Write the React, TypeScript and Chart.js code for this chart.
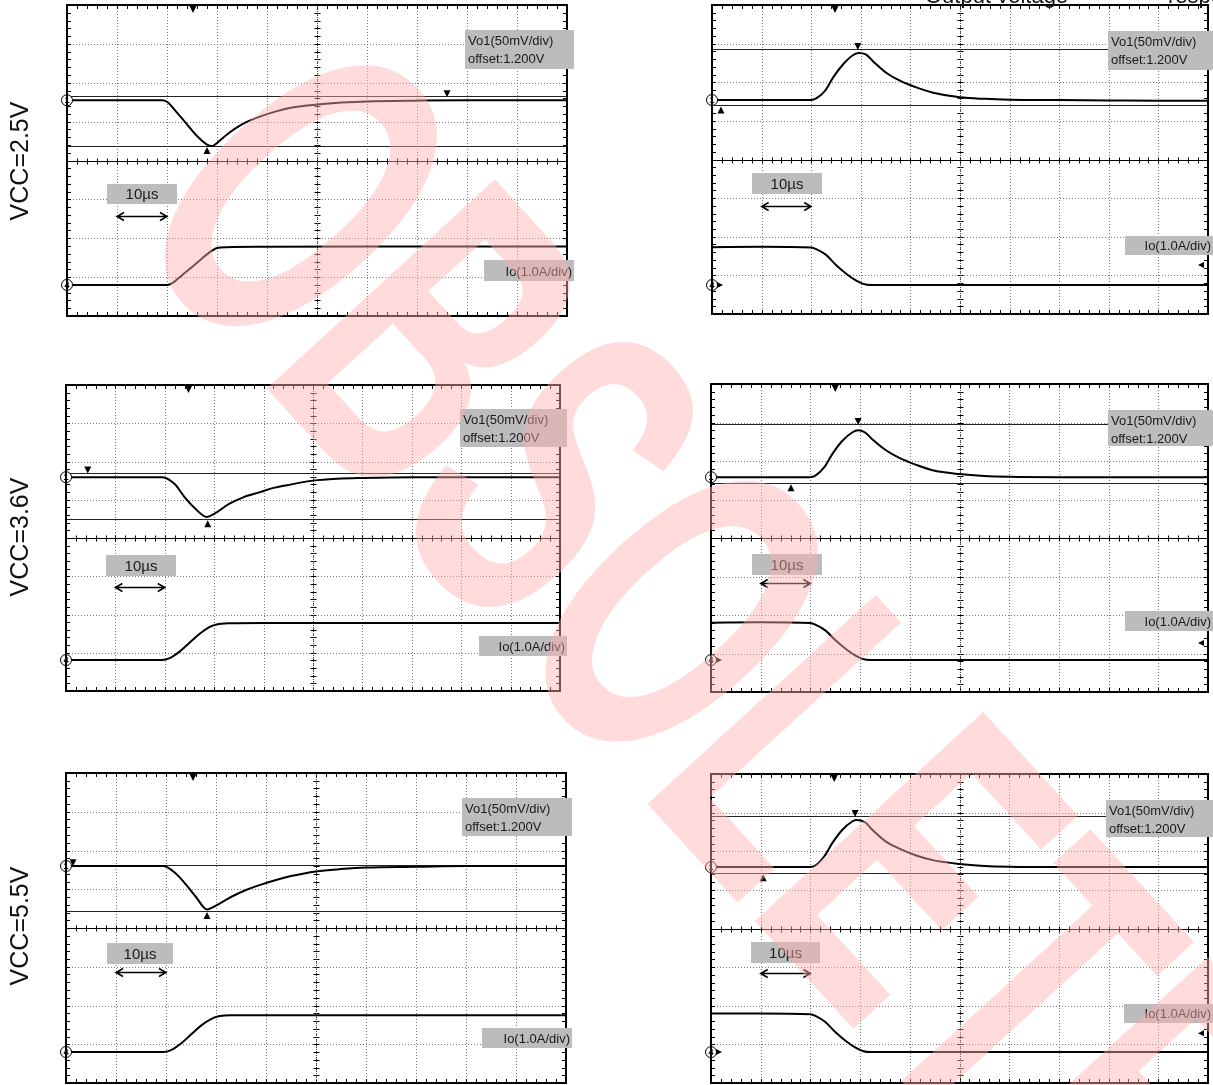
import React, { useEffect, useRef } from "react";
import { Chart, registerables } from "chart.js";
Chart.register(...registerables);

const FONT = "Arial, 'Liberation Sans', Helvetica, sans-serif";

// ---------------- text ----------------
const VCC_LABELS = ["VCC=2.5V", "VCC=3.6V", "VCC=5.5V"];
const VO_LABEL = ["Vo1(50mV/div)", "offset:1.200V"];
const IO_LABEL = "Io(1.0A/div)";
const TIME_LABEL = "10µs";
const TITLE_PARTS = ["Output voltage", "response"];
const WATERMARK = "OBSOLETE";

// ---------------- scales ----------------
const VO_MV_PER_DIV = 50;
const IO_A_PER_DIV = 1.0;
const T_MIN = 0; // µs
const T_MAX = 100; // µs (10 µs/div)

// ---------------- data: left column (load step up, Vo undershoot) ----------------
const tlVoT = [0, 10, 19, 20, 22, 24, 26, 28, 29, 30, 32, 35, 38.6, 42, 45.3, 50, 55, 60, 70, 80, 90, 100];
const tlVoMv = [0, 0, 0, -2, -16, -31, -46, -57, -59, -55, -44, -31, -21, -14, -9, -5.5, -3, -1.5, -0.5, 0, 0, 0];
const tlIoT = [0, 10, 20, 21, 23, 25, 27, 29, 30, 32, 40, 60, 80, 100];
const tlIoA = [0, 0, 0, 0.04, 0.25, 0.46, 0.68, 0.88, 0.95, 0.97, 0.98, 0.99, 0.99, 0.99];

const mlVoT = [0, 10, 19.5, 22, 24, 26, 28.5, 30, 33, 36, 39.3, 42, 44.7, 50, 55, 60, 70, 80, 100];
const mlVoMv = [0, 0, 0, -9, -26, -40, -52, -48, -35, -26, -19.5, -14, -10.5, -4.5, -2, -1, 0, 0, 0];
const mlIoT = [0, 10, 19.5, 21, 23, 25, 27, 29, 30.5, 33, 40, 60, 100];
const mlIoA = [0, 0, 0, 0.05, 0.22, 0.45, 0.68, 0.86, 0.93, 0.96, 0.97, 0.97, 0.97];

const blVoT = [0, 10, 19.5, 22, 24, 26, 28.2, 30, 33, 36, 39, 42, 45, 50, 55, 60, 70, 80, 100];
const blVoMv = [0, 0, 0, -10, -24, -40, -56, -51, -40, -31, -24, -18, -13, -7, -4, -2, -1, 0, 0];
const blIoT = [0, 10, 19.5, 21, 23, 25, 27, 29, 30.5, 33, 40, 60, 100];
const blIoA = [0, 0, 0, 0.05, 0.22, 0.45, 0.68, 0.85, 0.92, 0.95, 0.95, 0.95, 0.95];

// ---------------- data: right column (load release, Vo overshoot) ----------------
const trVoT = [0, 10, 20, 21, 22.8, 24.4, 26.4, 28.4, 29.6, 31, 32.5, 35.2, 37.9, 41.3, 44.6, 50, 55, 60, 70, 80, 90, 100];
const trVoMv = [0, 0, 0, 2, 12, 29, 46, 58, 61, 59, 50, 35, 25, 16, 9.5, 3.5, 1.5, 0.5, 0, -0.5, -1, -1];
const trIoT = [0, 10, 20, 21, 23, 25, 27, 29, 30.5, 32, 40, 60, 80, 100];
const trIoA = [0.98, 0.99, 0.97, 0.93, 0.78, 0.52, 0.3, 0.12, 0.03, 0, 0, 0, 0, 0];

const mrVoT = [0, 10, 20, 21, 22.8, 24.4, 26.4, 28.4, 29.6, 31, 32.5, 35.2, 37.9, 41.3, 44.6, 50, 55, 60, 70, 80, 90, 100];
const mrVoMv = [0, 0, 0, 2, 13, 30, 47, 58, 61, 58, 49, 35, 25, 16, 9, 4, 1.5, 0.5, 0, 0, 0, 0];
const mrIoT = [0, 10, 20, 21, 23, 25, 27, 29, 30.5, 32, 40, 60, 80, 100];
const mrIoA = [0.97, 0.98, 0.96, 0.92, 0.77, 0.52, 0.3, 0.12, 0.03, 0, 0, 0, 0, 0];

const brVoT = [0, 10, 20, 21, 22.8, 24.4, 26.4, 28.4, 29.2, 31, 32.5, 35.2, 37.9, 41.3, 44.6, 50, 55, 60, 70, 80, 90, 100];
const brVoMv = [0, 0, 0, 2, 14, 31, 48, 59, 61, 58, 48, 33, 24, 15, 9, 4, 1.5, 0.5, 0, 0, 0, 0];
const brIoT = [0, 10, 20, 21, 23, 25, 27, 29, 30.5, 32, 40, 60, 80, 100];
const brIoA = [1.0, 1.0, 0.98, 0.94, 0.78, 0.52, 0.3, 0.12, 0.03, 0, 0, 0, 0, 0];

// channel reference positions (div from screen centre)
const voPos = [1.55, 1.54, 1.59, 1.58, 1.6, 1.59];
const ioPos = [-3.2, -3.25, -3.19, -3.17, -3.2, -3.2];
// cursor levels (mV relative to Vo reference): [upper, lower]
const cursorMv = [[5, -59], [66, -7], [6, -55], [69, -8], [1, -58], [66, -8]];
// trigger time (µs) and cursor marker times (µs): [on upper cursor, on lower cursor]
const trigT = [25.2, 24.8, 24.8, 25, 25.4, 24.8];
const markT = [[76, 28], [29.4, 1.8], [4.4, 28.7], [29.6, 16.1], [1.4, 28.2], [29.0, 10.5]];
// ch4 trigger-level marker (div) on right panels
const ioLevelDiv = [null, -2.73, null, -2.73, null, -2.71];

// ---------------- layout ----------------
type Box = [number, number, number, number];
const LAYOUT = [
  { left: 67, top: 5, w: 500, h: 311, vo: [398, 25, 109, 39] as Box, io: [417, 255, 90, 21] as Box, tm: [40, 179, 70, 20] as Box, arrowY: 211 },
  { left: 712, top: 5, w: 496, h: 309, vo: [396, 26, 105, 39] as Box, io: [413, 231, 88, 19] as Box, tm: [40, 168, 70, 21] as Box, arrowY: 201 },
  { left: 66, top: 385, w: 494, h: 306, vo: [394, 24, 107, 38] as Box, io: [413, 251, 88, 20] as Box, tm: [40, 170, 70, 21] as Box, arrowY: 202 },
  { left: 711, top: 384, w: 497, h: 308, vo: [397, 26, 105, 36] as Box, io: [414, 227, 88, 20] as Box, tm: [41, 170, 70, 21] as Box, arrowY: 199 },
  { left: 66, top: 773, w: 500, h: 310, vo: [396, 25, 110, 38] as Box, io: [416, 255, 90, 20] as Box, tm: [41, 170, 66, 21] as Box, arrowY: 199 },
  { left: 711, top: 774, w: 497, h: 309, vo: [395, 26, 107, 37] as Box, io: [413, 230, 89, 19] as Box, tm: [40, 168, 69, 21] as Box, arrowY: 199 },
];
const PAD = { left: 12, right: 12, top: 5, bottom: 3 };

const SERIES = [
  { voT: tlVoT, voMv: tlVoMv, ioT: tlIoT, ioA: tlIoA },
  { voT: trVoT, voMv: trVoMv, ioT: trIoT, ioA: trIoA },
  { voT: mlVoT, voMv: mlVoMv, ioT: mlIoT, ioA: mlIoA },
  { voT: mrVoT, voMv: mrVoMv, ioT: mrIoT, ioA: mrIoA },
  { voT: blVoT, voMv: blVoMv, ioT: blIoT, ioA: blIoA },
  { voT: brVoT, voMv: brVoMv, ioT: brIoT, ioA: brIoA },
];

function tri(ctx: CanvasRenderingContext2D, x: number, y: number, dir: "down" | "up" | "left" | "right", s = 4, color = "#000") {
  ctx.save();
  ctx.fillStyle = color;
  ctx.beginPath();
  if (dir === "down") { ctx.moveTo(x - s, y - 2 * s); ctx.lineTo(x + s, y - 2 * s); ctx.lineTo(x, y); }
  if (dir === "up") { ctx.moveTo(x - s, y + 2 * s); ctx.lineTo(x + s, y + 2 * s); ctx.lineTo(x, y); }
  if (dir === "left") { ctx.moveTo(x + 2 * s, y - s); ctx.lineTo(x + 2 * s, y + s); ctx.lineTo(x, y); }
  if (dir === "right") { ctx.moveTo(x - 2 * s, y - s); ctx.lineTo(x - 2 * s, y + s); ctx.lineTo(x, y); }
  ctx.closePath();
  ctx.fill();
  ctx.restore();
}

function makeScopePlugin(i: number) {
  const L = LAYOUT[i];
  const right = i % 2 === 1;
  return {
    id: "scope" + i,
    beforeDatasetsDraw(chart: any) {
      const { ctx, chartArea: a, scales } = chart;
      const xs = scales.x, ys = scales.y;
      ctx.save();
      // dotted grid
      ctx.strokeStyle = "#7a7a7a";
      ctx.lineWidth = 1;
      ctx.setLineDash([1, 2]);
      for (let k = 1; k < 10; k++) {
        const px = Math.round(xs.getPixelForValue(k * 10)) + 0.5;
        ctx.beginPath(); ctx.moveTo(px, a.top); ctx.lineTo(px, a.bottom); ctx.stroke();
      }
      for (let k = -3; k <= 3; k++) {
        if (k === 0) continue;
        const py = Math.round(ys.getPixelForValue(k)) + 0.5;
        ctx.beginPath(); ctx.moveTo(a.left, py); ctx.lineTo(a.right, py); ctx.stroke();
      }
      ctx.setLineDash([]);
      // centre horizontal line
      ctx.strokeStyle = "#000";
      const cy = Math.round(ys.getPixelForValue(0)) + 0.5;
      ctx.beginPath(); ctx.moveTo(a.left, cy); ctx.lineTo(a.right, cy); ctx.stroke();
      const cx = Math.round(xs.getPixelForValue(50)) + 0.5;
      // minor ticks
      ctx.beginPath();
      for (let k = 1; k < 50; k++) {
        const px = Math.round(xs.getPixelForValue(k * 2)) + 0.5;
        ctx.moveTo(px, a.top); ctx.lineTo(px, a.top + 4);
        ctx.moveTo(px, a.bottom); ctx.lineTo(px, a.bottom - 4);
        ctx.moveTo(px, cy - 3); ctx.lineTo(px, cy + 3);
      }
      for (let k = 1; k < 40; k++) {
        const py = Math.round(ys.getPixelForValue(-4 + k * 0.2)) + 0.5;
        ctx.moveTo(a.left, py); ctx.lineTo(a.left + 4, py);
        ctx.moveTo(a.right, py); ctx.lineTo(a.right - 4, py);
        ctx.moveTo(cx - 3, py); ctx.lineTo(cx + 3, py);
      }
      ctx.stroke();
      // centre vertical (dotted) line
      ctx.strokeStyle = "#444";
      ctx.setLineDash([1, 1]);
      ctx.beginPath(); ctx.moveTo(cx, a.top); ctx.lineTo(cx, a.bottom); ctx.stroke();
      ctx.setLineDash([]);
      // cursor lines
      ctx.strokeStyle = "#222";
      for (const mv of cursorMv[i]) {
        const py = Math.round(ys.getPixelForValue(voPos[i] + mv / VO_MV_PER_DIV)) + 0.5;
        ctx.beginPath(); ctx.moveTo(a.left, py); ctx.lineTo(a.right, py); ctx.stroke();
      }
      ctx.restore();
    },
    afterDatasetsDraw(chart: any) {
      const { ctx, chartArea: a, scales } = chart;
      const xs = scales.x, ys = scales.y;
      ctx.save();
      // trigger marker
      tri(ctx, xs.getPixelForValue(trigT[i]), a.top + 8, "down", 3.5);
      const yUp = ys.getPixelForValue(voPos[i] + cursorMv[i][0] / VO_MV_PER_DIV);
      const yLo = ys.getPixelForValue(voPos[i] + cursorMv[i][1] / VO_MV_PER_DIV);
      tri(ctx, xs.getPixelForValue(markT[i][0]), yUp + 1, "down", 3.5);
      tri(ctx, xs.getPixelForValue(markT[i][1]), yLo + 1, "up", 3.5);
      if (ioLevelDiv[i] !== null) {
        tri(ctx, a.right - 10, ys.getPixelForValue(ioLevelDiv[i] as number), "left", 3);
      }
      // channel markers
      const chans: [string, number][] = [["1", voPos[i]], ["4", ioPos[i]]];
      for (const [lbl, pos] of chans) {
        const py = ys.getPixelForValue(pos);
        if (right && lbl === "4") tri(ctx, a.left + 11, py, "right", 3);
        ctx.beginPath();
        ctx.arc(a.left, py, 5.5, 0, Math.PI * 2);
        ctx.fillStyle = "#fff"; ctx.fill();
        ctx.strokeStyle = "#000"; ctx.lineWidth = 1; ctx.stroke();
        ctx.fillStyle = "#000";
        ctx.font = `bold 9px ${FONT}`;
        ctx.textAlign = "center"; ctx.textBaseline = "middle";
        ctx.fillText(lbl, a.left, py + 0.5);
      }
      // border
      ctx.strokeStyle = "#000";
      ctx.lineWidth = 2;
      ctx.strokeRect(a.left, a.top, a.right - a.left, a.bottom - a.top);
      // label boxes
      const ox = a.left, oy = a.top;
      ctx.fillStyle = "#bcbcbc";
      const [vx, vy, vw, vh] = L.vo;
      ctx.fillRect(ox + vx, oy + vy, vw, vh);
      const [ix, iy, iw, ih] = L.io;
      ctx.fillRect(ox + ix, oy + iy, iw, ih);
      const [tx, ty, tw, th] = L.tm;
      ctx.fillRect(ox + tx, oy + ty, tw, th);
      ctx.fillStyle = "#1a1a1a";
      ctx.textAlign = "left"; ctx.textBaseline = "alphabetic";
      ctx.font = `13px ${FONT}`;
      ctx.fillText(VO_LABEL[0], ox + vx + 3, oy + vy + 15);
      ctx.fillText(VO_LABEL[1], ox + vx + 3, oy + vy + 33);
      ctx.textAlign = "right";
      ctx.fillText(IO_LABEL, ox + ix + iw - 2, oy + iy + ih - 5);
      ctx.textAlign = "center";
      ctx.font = `15px ${FONT}`;
      ctx.fillText(TIME_LABEL, ox + tx + tw / 2, oy + ty + th - 5);
      // 10 µs arrow
      const x1 = xs.getPixelForValue(10), x2 = xs.getPixelForValue(20);
      const ay = oy + L.arrowY + 0.5;
      ctx.strokeStyle = "#000"; ctx.lineWidth = 1.5;
      ctx.beginPath();
      ctx.moveTo(x1, ay); ctx.lineTo(x2, ay);
      ctx.moveTo(x1 + 7, ay - 4); ctx.lineTo(x1, ay); ctx.lineTo(x1 + 7, ay + 4);
      ctx.moveTo(x2 - 7, ay - 4); ctx.lineTo(x2, ay); ctx.lineTo(x2 - 7, ay + 4);
      ctx.stroke();
      ctx.restore();
    },
  };
}

function ScopePanel({ index }: { index: number }) {
  const ref = useRef<HTMLCanvasElement>(null);
  const L = LAYOUT[index];
  const W = L.w + PAD.left + PAD.right;
  const H = L.h + PAD.top + PAD.bottom;
  useEffect(() => {
    const s = SERIES[index];
    const chart = new Chart(ref.current as HTMLCanvasElement, {
      type: "line",
      data: {
        datasets: [
          {
            label: "Vo1",
            data: s.voT.map((t, k) => ({ x: t, y: voPos[index] + s.voMv[k] / VO_MV_PER_DIV })),
            borderColor: "#000",
            borderWidth: 2,
            pointRadius: 0,
            cubicInterpolationMode: "monotone",
          },
          {
            label: "Io",
            data: s.ioT.map((t, k) => ({ x: t, y: ioPos[index] + s.ioA[k] / IO_A_PER_DIV })),
            borderColor: "#000",
            borderWidth: 2,
            pointRadius: 0,
            cubicInterpolationMode: "monotone",
          },
        ],
      },
      options: {
        responsive: false,
        animation: false,
        events: [],
        layout: { padding: PAD },
        plugins: { legend: { display: false }, tooltip: { enabled: false } },
        scales: {
          x: { type: "linear", min: T_MIN, max: T_MAX, display: false },
          y: { type: "linear", min: -4, max: 4, display: false },
        },
      },
      plugins: [makeScopePlugin(index)],
    } as any);
    return () => chart.destroy();
  }, [index]);
  return (
    <canvas
      ref={ref}
      width={W}
      height={H}
      style={{ position: "absolute", left: L.left - PAD.left, top: L.top - PAD.top, width: W, height: H }}
    />
  );
}

const overlayPlugin = {
  id: "overlay",
  afterDraw(chart: any) {
    const ctx: CanvasRenderingContext2D = chart.ctx;
    ctx.save();
    // title (cut at top edge)
    ctx.fillStyle = "#111";
    ctx.font = `22px ${FONT}`;
    ctx.textAlign = "left";
    ctx.textBaseline = "alphabetic";
    ctx.fillText(TITLE_PARTS[0], 925, 3);
    ctx.fillText(TITLE_PARTS[1], 1168, 3);
    // VCC labels
    ctx.font = `25px ${FONT}`;
    ctx.textAlign = "center";
    ctx.textBaseline = "middle";
    const ys = [161, 537, 926];
    VCC_LABELS.forEach((t, k) => {
      ctx.save();
      ctx.translate(21, ys[k]);
      ctx.rotate(-Math.PI / 2);
      ctx.fillText(t, 0, 0);
      ctx.restore();
    });
    // watermark (condensed bold, diagonal)
    ctx.save();
    ctx.fillStyle = "rgba(255,175,175,0.45)";
    ctx.font = `bold 450px ${FONT}`;
    ctx.translate(693, 670);
    ctx.rotate((47.5 * Math.PI) / 180);
    ctx.scale(0.578, 1);
    ctx.textAlign = "center";
    ctx.textBaseline = "middle";
    ctx.fillText(WATERMARK, 0, 0);
    ctx.restore();
    ctx.restore();
  },
};

function Overlay() {
  const ref = useRef<HTMLCanvasElement>(null);
  useEffect(() => {
    const chart = new Chart(ref.current as HTMLCanvasElement, {
      type: "scatter",
      data: { datasets: [] },
      options: {
        responsive: false,
        animation: false,
        events: [],
        plugins: { legend: { display: false }, tooltip: { enabled: false } },
        scales: { x: { display: false }, y: { display: false } },
      },
      plugins: [overlayPlugin],
    } as any);
    return () => chart.destroy();
  }, []);
  return (
    <canvas
      ref={ref}
      width={1213}
      height={1085}
      style={{ position: "absolute", left: 0, top: 0, width: 1213, height: 1085, pointerEvents: "none" }}
    />
  );
}

export default function App() {
  return (
    <div style={{ position: "fixed", left: 0, top: 0, width: 1213, height: 1085, overflow: "hidden", background: "#fff" }}>
      {LAYOUT.map((_, i) => (
        <ScopePanel key={i} index={i} />
      ))}
      <Overlay />
    </div>
  );
}
